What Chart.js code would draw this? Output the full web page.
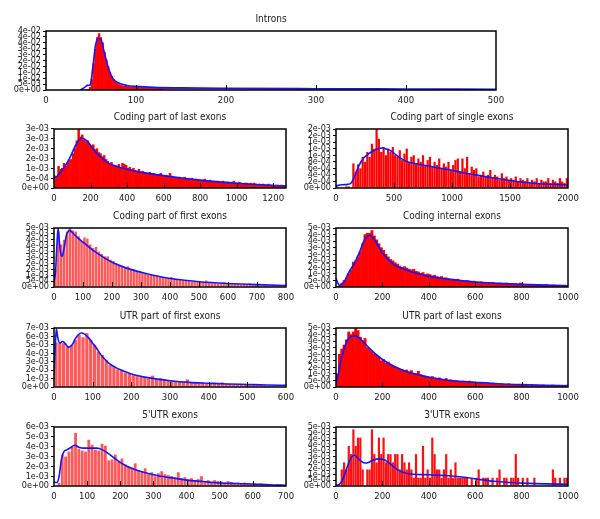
<!DOCTYPE html>
<html><head><meta charset="utf-8">
<script src="https://cdn.jsdelivr.net/npm/chart.js@4.4.0/dist/chart.umd.min.js"></script>
<style>
html,body{margin:0;padding:0;background:#fff;width:600px;height:519px;overflow:hidden;position:relative}
canvas{position:absolute}
</style></head><body>
<script>
// ---------- DATA (bar heights per bin, density curves, tick labels) ----------
// Introns (values x1e-3), bins of 2 from 40, tail bins of 10 from 130
const intronsBars = [0,0,0,0.3,2,8,20,31,40,43,
 40,36,29,23,18,13.5,10.5,8,6.3,5,
 4.2,3.6,3.2,2.9,3.6,2.6,2.4,2.3,2.2,2.1,
 2.0,2.1,1.9,1.9,1.8,1.8,1.7,1.8,1.7,1.6,
 1.6,1.7,1.5,1.5,1.5];
const intronsTailBars = [1.5,1.4,1.4,1.3,1.3,1.2,1.2,1.2,1.1,1.1,
 1.1,1.0,1.0,1.0,1.0,0.9,0.9,0.9,0.9,0.9,
 0.8,0.8,0.8,0.8,0.8,0.7,0.7,0.7,0.7,0.7,
 0.7,0.6,0.6,0.6,0.6,0.6,0.5];
const intronsDensX = [38,43,46,49,52,55,58,61,65,69,74,80,90,100,120,150,200,300,400,500];
const intronsDensY = [0,2,3.5,3.8,17,34,39.5,38.5,28,17.5,9,5.5,3.5,2.8,2.0,1.6,1.3,1.0,0.8,0.6];
const intronsXTicks = [0,100,200,300,400,500];
const intronsYLabels = ['0e+00','5e-03','1e-02','1e-02','2e-02','2e-02','3e-02','3e-02','4e-02','4e-02','4e-02'];

// Coding part of last exons (x1e-4), bins of 10 from 0
const lastCodBars = [5.5,6,11,9.5,10,12.5,11,13,14,14.5,
 17.5,20,24,30,26,27,24.5,23.5,24,22,
 21,22,19.5,20,18,17.5,16,16.5,14.5,13.5,
 12.5,13,11.5,11,10.5,12,10.5,12.5,12,11.5,
 10,10.5,9.5,10,9,8.5,9.5,8,8.5,8,
 7.5,7.5,8,7,7.5,7,6.5,7,7.5,6.5,
 6,6.5,5.5,7.5,6,5,5.5,5,5.5,5,
 4.5,5.5,4.5,5,4.5,5,4,4.5,4.5,4,
 3.5,4,4.5,3.5,3.5,4,3,3.5,3,3.5,
 3,3,3.5,2.5,3,3,2.5,3,3.5,2.5,
 2.5,3,2.5,2,2.5,2.5,2,2.5,2,2.5,
 2,1.5,2,1.5,2,1.5,1.5,2,1.5,1.5,
 1,1.5,1.5,1,1.5,1,1];
const lastCodDensX = [0,10,30,60,90,120,150,180,210,240,270,300,350,400,450,500,600,700,800,900,1000,1100,1200,1270];
const lastCodDensY = [6.5,5.5,7.5,11,16,22,25.4,24,20.5,17,14.5,12.5,10.8,9.5,8.5,7.7,6.3,5.1,4.0,3.1,2.4,1.8,1.3,1.1];
const lastCodXTicks = [0,200,400,600,800,1000,1200];
const lastCodYLabels = ['0e+00','5e-04','1e-03','2e-03','2e-03','3e-03','3e-03'];

// Coding part of single exons (x1e-4), bins of 20 from 0
const singleBars = [0,0,0,0,0.5,0.5,0,7.5,5,7.2,
 6,9.5,8,11,9.5,13.5,12,18,15,11,
 12.5,10,12,11,12.5,10,9.5,11.5,8.5,10.5,
 12,8,9.5,10,7.5,9,8,10,7,8.5,
 9.5,6.5,8,7,9,6,7.5,6.5,8,5.5,
 7,8.5,9,5,9,6,9.5,4.5,6.5,5.5,
 6,3.5,4,5,3.5,4,5.5,3,4,3.5,
 2.5,4.5,3,3.5,2.5,3,2.5,3.5,2,3,
 2.5,2,3,1.5,2.5,2,3,1.5,2.5,2,
 2,3,1.5,2.5,2,1.5,3,2,1.5,3];
const singleDensX = [0,20,60,100,130,160,200,240,280,320,360,400,440,480,520,560,600,700,800,900,1000,1100,1200,1300,1400,1500,1600,1700,1800,1900,2000];
const singleDensY = [0.5,0.8,1,1.1,1.5,3.6,7,9.2,10.4,11.3,12,12.2,11.8,11.2,10,9,8.2,7.3,6.7,6,5.4,4.6,4,3.4,2.8,2.3,1.8,1.5,1.2,1.1,0.9];
const singleXTicks = [0,500,1000,1500,2000];
const singleYLabels = ['0e+00','2e-04','4e-04','6e-04','8e-04','1e-03','1e-03','1e-03','2e-03','2e-03'];

// Coding part of first exons (x1e-3), bins of 10 from 0
const firstCodBars = [1.5,4.7,3.6,4.0,4.7,5.0,4.8,4.7,4.3,3.9,
 4.2,4.1,3.6,3.3,3.4,3.0,2.8,2.6,2.6,2.3,
 2.2,2.0,1.9,1.8,1.7,1.75,1.5,1.5,1.3,1.35,
 1.25,1.15,1.05,1.05,0.95,0.95,0.85,0.85,0.75,0.75,
 0.85,0.75,0.65,0.6,0.55,0.55,0.5,0.45,0.45,0.4,
 0.45,0.4,0.55,0.35,0.35,0.35,0.3,0.3,0.4,0.3,
 0.25,0.3,0.25,0.25,0.2,0.25,0.2,0.3,0.2,0.2,
 0.2,0.15,0.2,0.15,0.15,0.2,0.15,0.15,0.1,0.1];
const firstCodDensX = [0,5,10,14,18,22,28,35,42,50,55,60,70,80,100,125,150,175,200,250,300,350,400,450,500,600,700,800];
const firstCodDensY = [0.5,1.2,3.5,5.0,4.0,3.0,2.6,3.3,4.3,4.75,4.8,4.7,4.45,4.2,3.8,3.3,2.85,2.45,2.1,1.6,1.25,0.95,0.72,0.57,0.45,0.3,0.2,0.13];
const firstCodXTicks = [0,100,200,300,400,500,600,700,800];
const firstCodYLabels = ['0e+00','5e-04','1e-03','2e-03','2e-03','3e-03','3e-03','4e-03','4e-03','5e-03','5e-03'];

// Coding internal exons (x1e-3), bins of 10 from 0
const internalBars = [0,0.1,0.3,0.5,0.7,1.0,1.3,1.9,2.0,2.3,
 2.7,3.3,4.0,4.1,4.1,4.3,3.9,3.6,3.3,3.0,
 2.8,2.5,2.3,2.1,2.0,1.85,1.75,1.6,1.5,1.55,
 1.45,1.35,1.3,1.35,1.2,1.15,1.05,1.1,0.95,1.0,
 0.95,0.85,0.9,0.8,0.75,0.8,0.7,0.7,0.65,0.6,
 0.6,0.55,0.6,0.5,0.5,0.45,0.5,0.45,0.4,0.45,
 0.4,0.35,0.4,0.35,0.3,0.35,0.3,0.35,0.3,0.25,
 0.3,0.25,0.25,0.3,0.2,0.25,0.2,0.25,0.2,0.3,
 0.2,0.15,0.2,0.2,0.15,0.2,0.15,0.2,0.15,0.15,
 0.2,0.15,0.1,0.15,0.15,0.1,0.15,0.1,0.15,0.1];
const internalDensX = [0,8,15,25,40,50,65,80,100,120,135,145,160,180,200,225,250,300,350,400,450,500,600,700,800,900,1000];
const internalDensY = [0.67,0.3,0.12,0.2,0.55,0.94,1.4,1.83,2.6,3.5,3.85,3.94,3.74,3.2,2.6,2.1,1.7,1.32,1.03,0.81,0.67,0.56,0.38,0.28,0.2,0.14,0.1];
const internalXTicks = [0,200,400,600,800,1000];
const internalYLabels = ['0e+00','5e-04','1e-03','2e-03','2e-03','3e-03','3e-03','4e-03','4e-03','5e-03'];

// UTR part of first exons (x1e-3), bins of 10 from 0
const firstUtrBars = [5.3,5.2,5.2,4.8,5.0,5.6,6.2,5.9,6.4,5.6,
 5.0,4.2,3.8,3.2,2.6,2.5,2.1,2.0,1.7,1.6,
 1.4,1.3,1.2,1.15,1.0,1.35,0.95,1.05,0.85,0.8,
 0.75,0.7,0.65,0.6,0.9,0.6,0.5,0.45,0.5,0.4,
 0.45,0.5,0.4,0.55,0.35,0.35,0.3,0.3,0.35,0.3,
 0.25,0.3,0.25,0.3,0.2,0.15,0.15,0.1,0.1,0.1];
const firstUtrDensX = [0,3,6,10,15,22,28,38,47,55,63,70,78,90,100,110,120,140,160,180,200,250,300,350,400,450,500,550,600];
const firstUtrDensY = [1.5,4.5,6.9,5.8,5.2,5.4,5.2,4.7,5.0,5.7,6.2,6.4,6.3,5.8,5.2,4.6,3.9,2.9,2.3,1.9,1.55,1.05,0.75,0.55,0.45,0.36,0.3,0.24,0.2];
const firstUtrXTicks = [0,100,200,300,400,500,600];
const firstUtrYLabels = ['0e+00','1e-03','2e-03','3e-03','4e-03','5e-03','6e-03','7e-03'];

// UTR part of last exons (x1e-3), bins of 10 from 0
const lastUtrBars = [1.0,2.5,2.9,3.2,3.6,4.2,4.0,4.2,4.8,4.3,
 3.8,3.5,3.7,3.0,2.9,2.7,2.5,2.4,2.3,2.0,
 2.1,1.8,1.9,1.7,1.6,1.5,1.45,1.35,1.3,1.2,
 1.3,1.15,1.25,1.05,1.0,1.2,0.95,0.9,0.85,0.8,
 0.75,0.8,0.7,0.65,0.7,0.6,0.55,0.65,0.5,0.55,
 0.45,0.5,0.45,0.4,0.45,0.4,0.35,0.45,0.35,0.3,
 0.35,0.3,0.35,0.3,0.25,0.3,0.25,0.3,0.2,0.25,
 0.2,0.25,0.2,0.2,0.25,0.2,0.15,0.2,0.15,0.2,
 0.15,0.15,0.2,0.1,0.15,0.1,0.15,0.1,0.1,0.15,
 0.1,0.1,0.1,0.15,0.1,0.1,0.05,0.1,0.05,0.15];
const lastUtrDensX = [0,10,25,50,65,80,100,125,150,175,200,250,300,350,400,450,500,600,700,800,900,1000];
const lastUtrDensY = [0.18,1.0,2.3,3.6,3.85,3.9,3.74,3.3,2.85,2.45,2.1,1.58,1.2,0.95,0.74,0.6,0.48,0.36,0.25,0.18,0.13,0.1];
const lastUtrXTicks = [0,200,400,600,800,1000];
const lastUtrYLabels = ['0e+00','5e-04','1e-03','2e-03','2e-03','3e-03','3e-03','4e-03','4e-03','5e-03'];

// 5'UTR exons (x1e-3), bins of 10 from 0
const utr5Bars = [0,0.3,3.2,3.0,3.5,4.0,5.4,3.8,3.6,3.5,
 4.7,4.2,3.7,3.6,4.3,4.1,2.6,2.7,3.2,2.5,
 2.8,2.2,2.0,1.9,2.3,1.6,1.5,1.8,1.2,1.4,
 1.0,1.3,1.5,1.2,1.1,1.0,0.9,1.4,0.8,0.9,
 0.7,0.8,0.6,0.7,1.0,0.5,0.6,0.4,0.6,0.5,
 0.45,0.35,0.5,0.4,0.3,0.35,0.3,0.35,0.3,0.2,
 0.25,0.2,0.25,0.15,0.2,0.1,0.1,0.15,0.1,0.05];
const utr5DensX = [0,8,15,22,30,40,50,62,75,90,110,130,145,160,180,200,220,250,300,350,400,450,500,550,600,650,700];
const utr5DensY = [0.4,0.35,0.9,2.6,3.5,3.7,3.9,4.15,3.95,3.85,3.85,3.85,3.7,3.4,2.9,2.4,2.0,1.6,1.15,0.85,0.6,0.45,0.3,0.25,0.2,0.12,0.08];
const utr5XTicks = [0,100,200,300,400,500,600,700];
const utr5YLabels = ['0e+00','1e-03','2e-03','3e-03','4e-03','5e-03','6e-03'];

// 3'UTR exons (x1e-3), bins of 10 from 0
const utr3Bars = [0,0,1.4,2.0,1.4,3.4,2.7,4.8,3.4,4.1,
 4.1,1.4,0,1.4,1.4,4.8,2.7,2.0,4.1,2.7,
 4.1,2.0,2.7,2.7,2.0,2.7,2.7,1.4,2.7,2.0,
 1.4,2.0,1.4,0.7,2.7,0.7,0.7,3.4,0.7,1.4,
 0.7,4.1,2.7,1.4,1.4,0.7,1.4,2.7,0.7,1.4,
 0.7,2.0,0.7,0.7,0.7,0.7,0.7,0,0.7,0,
 0.7,1.4,0,0.7,0.7,0.7,0,0.7,0,0.7,
 1.4,0,0.7,0.7,0,0.7,0.7,2.7,0.7,0,
 0.7,0,0.7,0,0,0.7,0,0,0,0,
 0,0,0,1.4,0.7,0,0.7,0,0.7,0.7];
const utr3DensX = [0,15,30,50,65,79,90,105,125,140,160,187,210,235,260,290,330,400,450,500,570,620,680,750,830,900,1000];
const utr3DensY = [0.05,0.15,0.6,1.7,2.4,2.6,2.45,2.15,1.95,2.0,2.2,2.3,2.2,1.85,1.45,1.15,1.0,0.95,0.9,0.85,0.7,0.55,0.4,0.3,0.22,0.18,0.15];
const utr3XTicks = [0,200,400,600,800,1000];
const utr3YLabels = ['0e+00','5e-04','1e-03','2e-03','2e-03','3e-03','3e-03','4e-03','4e-03','5e-03','5e-03'];

// ---------- PANEL CONFIG ----------
const RED = '#ff0000', LIGHT = '#ff5a5a';
const panels = [
 {title:'Introns', plot:[46,31,496,90], cvLeft:0, xMax:500, xTicks:intronsXTicks, yMax:0.045, yLabels:intronsYLabels, unit:1e-3,
  bars:[{v:intronsBars,start:40,w:2,pct:1},{v:intronsTailBars,start:130,w:10,pct:5}], dx:intronsDensX, dy:intronsDensY, color:RED},
 {title:'Coding part of last exons', plot:[54,129,286,188], cvLeft:0, xMax:1270, xTicks:lastCodXTicks, yMax:0.003, yLabels:lastCodYLabels, unit:1e-4,
  bars:[{v:lastCodBars,start:0,w:10,pct:1}], dx:lastCodDensX, dy:lastCodDensY, color:RED},
 {title:'Coding part of single exons', plot:[336,129,568,188], cvLeft:290, xMax:2000, xTicks:singleXTicks, yMax:0.0018, yLabels:singleYLabels, unit:1e-4,
  bars:[{v:singleBars,start:0,w:20,pct:0.95}], dx:singleDensX, dy:singleDensY, color:RED},
 {title:'Coding part of first exons', plot:[54,228,286,287], cvLeft:0, xMax:800, xTicks:firstCodXTicks, yMax:0.005, yLabels:firstCodYLabels, unit:1e-3,
  bars:[{v:firstCodBars,start:0,w:10,pct:0.85}], dx:firstCodDensX, dy:firstCodDensY, color:LIGHT},
 {title:'Coding internal exons', plot:[336,228,568,287], cvLeft:290, xMax:1000, xTicks:internalXTicks, yMax:0.0045, yLabels:internalYLabels, unit:1e-3,
  bars:[{v:internalBars,start:0,w:10,pct:1}], dx:internalDensX, dy:internalDensY, color:RED},
 {title:'UTR part of first exons', plot:[54,328,286,387], cvLeft:0, xMax:600, xTicks:firstUtrXTicks, yMax:0.007, yLabels:firstUtrYLabels, unit:1e-3,
  bars:[{v:firstUtrBars,start:0,w:10,pct:0.85}], dx:firstUtrDensX, dy:firstUtrDensY, color:LIGHT},
 {title:'UTR part of last exons', plot:[336,328,568,387], cvLeft:290, xMax:1000, xTicks:lastUtrXTicks, yMax:0.0045, yLabels:lastUtrYLabels, unit:1e-3,
  bars:[{v:lastUtrBars,start:0,w:10,pct:1}], dx:lastUtrDensX, dy:lastUtrDensY, color:RED},
 {title:"5'UTR exons", plot:[54,427,286,486], cvLeft:0, xMax:700, xTicks:utr5XTicks, yMax:0.006, yLabels:utr5YLabels, unit:1e-3,
  bars:[{v:utr5Bars,start:0,w:10,pct:0.85}], dx:utr5DensX, dy:utr5DensY, color:LIGHT},
 {title:"3'UTR exons", plot:[336,427,568,486], cvLeft:290, xMax:1000, xTicks:utr3XTicks, yMax:0.005, yLabels:utr3YLabels, unit:1e-3,
  bars:[{v:utr3Bars,start:0,w:10,pct:0.95}], dx:utr3DensX, dy:utr3DensY, color:'#ff1010'}
];

Chart.defaults.font.family = '"Liberation Sans Narrow", "DejaVu Sans Condensed", "Liberation Sans", Arial, sans-serif';
Chart.defaults.color = '#1a1a1a';

const framePlugin = {
  id: 'frame',
  afterDatasetsDraw(chart) {
    const {ctx, chartArea: a} = chart;
    const x = chart.scales.x;
    ctx.save();
    ctx.strokeStyle = '#000';
    ctx.lineWidth = 1;
    x.ticks.forEach(t => {
      const px = Math.round(x.getPixelForValue(t.value)) + 0.5;
      if (px > a.left + 2 && px < a.right - 2) {
        ctx.beginPath(); ctx.moveTo(px, a.bottom); ctx.lineTo(px, a.bottom - 5); ctx.stroke();
      }
    });
    ctx.lineWidth = 1.5;
    ctx.strokeRect(a.left, a.top, a.right - a.left, a.bottom - a.top);
    ctx.restore();
  }
};

const TITLE_H = 22, XAXIS_H = 16, PAD_B = 4, PAD_R = 20;

panels.forEach(p => {
  const [L, T, R, B] = p.plot;
  const cv = document.createElement('canvas');
  const cw = R + PAD_R - p.cvLeft;
  const ch = TITLE_H + (B - T) + XAXIS_H + PAD_B;
  cv.width = cw; cv.height = ch;
  cv.style.left = p.cvLeft + 'px';
  cv.style.top = (T - TITLE_H) + 'px';
  cv.style.width = cw + 'px'; cv.style.height = ch + 'px';
  document.body.appendChild(cv);

  const datasets = [];
  datasets.push({
    type: 'line',
    data: p.dx.map((x, i) => ({x, y: p.dy[i] * p.unit})),
    borderColor: '#1414ff', borderWidth: 1.6, pointRadius: 0,
    cubicInterpolationMode: 'monotone', fill: false, order: 0
  });
  p.bars.forEach(b => {
    datasets.push({
      type: 'bar',
      data: b.v.map((v, i) => ({x: b.start + b.w * (i + 0.5), y: v * p.unit})),
      backgroundColor: p.color, borderWidth: 0,
      barPercentage: b.pct, categoryPercentage: 1, grouped: false, order: 1
    });
  });

  const yL = p.yLabels;
  new Chart(cv, {
    type: 'bar',
    data: {datasets},
    plugins: [framePlugin],
    options: {
      responsive: false, animation: false, events: [],
      devicePixelRatio: 1,
      layout: {padding: {left: 0, right: PAD_R, top: 0, bottom: PAD_B}},
      plugins: {
        legend: {display: false}, tooltip: {enabled: false},
        title: {display: true, text: p.title, fullSize: false, color: '#1a1a1a',
          font: {size: 10, weight: 'normal', lineHeight: 1.2}, padding: {top: 4.5, bottom: 5.5}}
      },
      scales: {
        x: {
          type: 'linear', min: 0, max: p.xMax, offset: false,
          grid: {display: false, drawTicks: false, offset: false},
          border: {display: false},
          afterBuildTicks: s => { s.ticks = p.xTicks.map(v => ({value: v})); },
          afterFit: s => { s.height = XAXIS_H; },
          ticks: {autoSkip: false, maxRotation: 0, padding: 5, font: {size: 9.5}, callback: v => String(v)}
        },
        y: {
          type: 'linear', min: 0, max: p.yMax,
          grid: {drawOnChartArea: false, drawTicks: true, tickLength: 3, color: '#000', lineWidth: 1},
          border: {display: false},
          afterBuildTicks: s => { s.ticks = yL.map((_, i) => ({value: i * p.yMax / (yL.length - 1)})); },
          afterFit: s => { s.width = L - p.cvLeft; },
          ticks: {autoSkip: false, padding: 2, font: {size: 9}, callback: (v, i) => yL[i]}
        }
      }
    }
  });
});
</script>
</body></html>
